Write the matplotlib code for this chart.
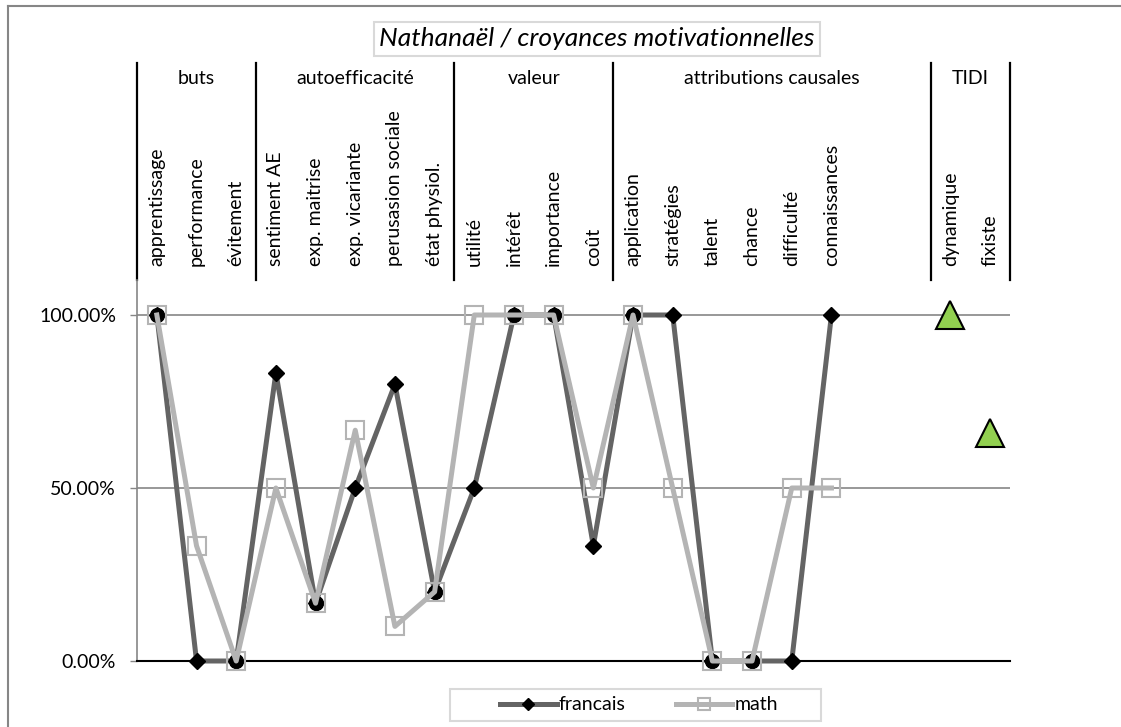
import numpy as np
import matplotlib
matplotlib.use("Agg")
import matplotlib.pyplot as plt
from matplotlib.lines import Line2D
from matplotlib.patches import Rectangle
from matplotlib.transforms import blended_transform_factory

plt.rcParams['font.family'] = ['Lato', 'DejaVu Sans']

# catégories (22 positions, 2 vides entre attributions et TIDI)
categories = ['apprentissage', 'performance', 'évitement',
              'sentiment AE', 'exp. maitrise', 'exp. vicariante', 'perusasion sociale', 'état physiol.',
              'utilité', 'intérêt', 'importance', 'coût',
              'application', 'stratégies', 'talent', 'chance', 'difficulté', 'connaissances',
              '', '',
              'dynamique', 'fixiste']

groups = ['buts', 'autoefficacité', 'valeur', 'attributions causales', 'TIDI']
group_bounds = [0, 3, 8, 12, 20, 22]

francais = [1.0, 0.0, 0.0, 0.833, 0.167, 0.5, 0.8, 0.2, 0.5, 1.0, 1.0, 0.333,
            1.0, 1.0, 0.0, 0.0, 0.0, 1.0]
math_vals = [1.0, 0.333, 0.0, 0.5, 0.167, 0.667, 0.1, 0.2, 1.0, 1.0, 1.0, 0.5,
             1.0, 0.5, 0.0, 0.0, 0.5, 0.5]
tidi_pos = [20, 21]
tidi = [1.0, 0.66]

W, H = 1121, 727
FS = 14
fig = plt.figure(figsize=(W / 100, H / 100), dpi=100)
ax = fig.add_axes([137 / W, 1 - 661 / H, (1010 - 137) / W, (661 - 280) / H])

x = np.arange(len(francais))
fr = np.array(francais)
ma = np.array(math_vals)

ax.plot(x, fr, color='#646464', lw=3.6, marker='D', ms=8.5, mfc='black', mec='black',
        zorder=3, label='francais', clip_on=False)
same = np.isclose(fr, ma)
ax.plot(x[same], fr[same], ls='none', marker='o', ms=10, mfc='black', mec='black', zorder=4,
        clip_on=False)
ax.plot(x, ma, color='#b4b4b4', lw=3.6, marker='s', ms=12.5, mfc='none', mec='#b4b4b4',
        mew=1.5, zorder=5, label='math', clip_on=False)
ax.plot(tidi_pos, tidi, ls='none', marker='^', ms=20, mfc='#92d050', mec='black', mew=1.5,
        zorder=6, clip_on=False)

ax.set_xlim(-0.5, len(categories) - 0.5)
ax.set_ylim(0, (661 - 280) / 346)
ax.set_yticks([0, 0.5, 1.0])
ax.set_yticklabels(['0.00%', '50.00%', '100.00%'], fontsize=FS)
ax.tick_params(axis='y', length=5, width=1, color='#868686', pad=10)
ax.set_xticks([])
for yv in [0.5, 1.0]:
    ax.axhline(yv, color='#868686', lw=1.2, zorder=1)
for s in ['top', 'right']:
    ax.spines[s].set_visible(False)
ax.spines['left'].set_color('#868686')
ax.spines['left'].set_linewidth(1.2)
ax.spines['bottom'].set_color('black')
ax.spines['bottom'].set_linewidth(1.5)

# en-tête : séparateurs, groupes, catégories
tr = blended_transform_factory(ax.transData, fig.transFigure)
for b in group_bounds:
    ax.add_line(Line2D([b - 0.5, b - 0.5], [1 - 63 / H, 1 - 280 / H], color='black', lw=1.6,
                       transform=tr, clip_on=False))
for g, a, b in zip(groups, group_bounds[:-1], group_bounds[1:]):
    ax.text((a + b - 1) / 2, 1 - 78 / H, g, transform=tr, ha='center', va='center', fontsize=FS)
for i, c in enumerate(categories):
    if c:
        ax.text(i, 1 - 266 / H, c, transform=tr, rotation=90, ha='center', va='bottom', fontsize=FS)

fig.text(597 / W, 1 - 39 / H, 'Nathanaël / croyances motivationnelles', ha='center', va='center',
         fontsize=19, style='italic',
         bbox=dict(boxstyle='square,pad=0.2', fc='white', ec='#d9d9d9', lw=1.5))

# bordure du graphique (haut et gauche)
fig.add_artist(Line2D([8 / W, 1], [1 - 6 / H, 1 - 6 / H], color='#868686', lw=1.5))
fig.add_artist(Line2D([8 / W, 8 / W], [0, 1 - 6 / H], color='#868686', lw=1.5))

# légende
fig.add_artist(Rectangle((450 / W, 1 - 721 / H), (821 - 450) / W, 32 / H, transform=fig.transFigure,
                         fc='white', ec='#d9d9d9', lw=1.5, zorder=-1))
leg = ax.legend(loc='center', bbox_to_anchor=(639 / W, 1 - 705 / H), bbox_transform=fig.transFigure,
                ncol=2, fontsize=FS, frameon=False, handlelength=2.9,
                handletextpad=0.1, columnspacing=2.6, borderpad=0.2, markerscale=0.7)

fig.savefig('out.png', dpi=100)
